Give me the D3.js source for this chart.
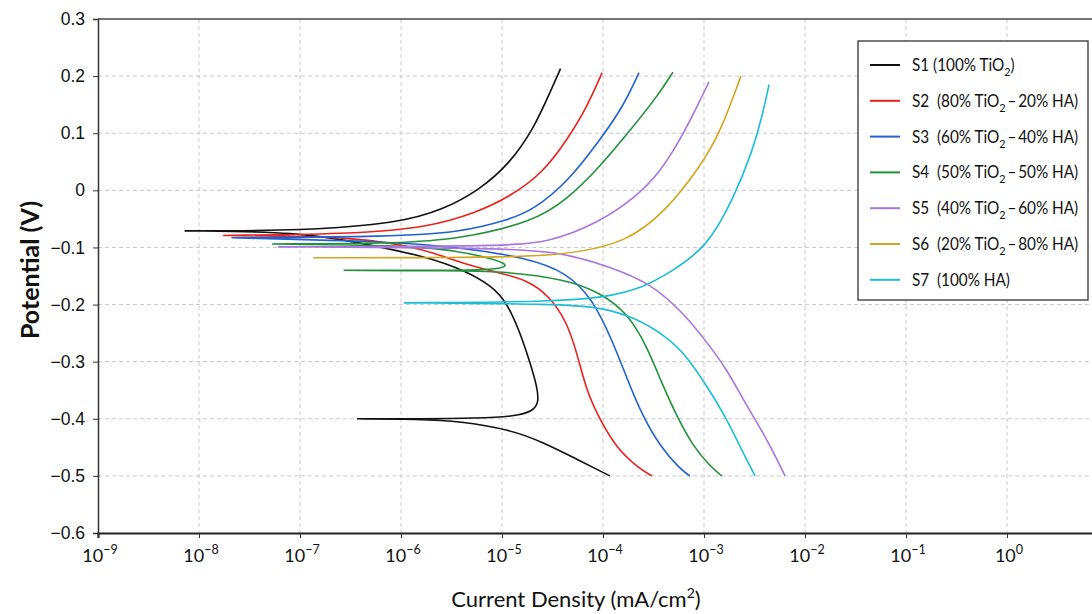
<!DOCTYPE html>
<html>
<head>
<meta charset="utf-8">
<script src="https://cdn.jsdelivr.net/npm/d3@7"></script>
<style>
  body { margin: 0; background: #fff; }
  svg { display: block; font-family: Lato, "Open Sans", sans-serif; }
</style>
</head>
<body>
<div id="chart"></div>
<script>
// polarisation curves, each one traced along the path: [current density mA/cm2, potential V]
var s1 = [[3.8e-5,0.213],[2.98e-5,0.171],[2.03e-5,0.106],[1.2e-5,0.048],[6.05e-6,0.001],[2.6e-6,-0.034],[9.8e-7,-0.057],[1.07e-7,-0.071],[7.2e-9,-0.071],
  [1.0e-7,-0.073],[3.93e-7,-0.092],[1.81e-6,-0.116],[4.5e-6,-0.142],[8.1e-6,-0.169],[1.12e-5,-0.197],[1.51e-5,-0.249],[1.89e-5,-0.301],[2.22e-5,-0.343],[2.32e-5,-0.371],[2.03e-5,-0.387],[1.29e-5,-0.396],[5.65e-6,-0.399],[1.54e-6,-0.4],[3.66e-7,-0.4],
  [1.5e-6,-0.401],[3.84e-6,-0.404],[1.2e-5,-0.419],[2.55e-5,-0.441],[5.53e-5,-0.471],[1.17e-4,-0.5]];
var s2 = [[9.8e-5,0.206],[6.95e-5,0.146],[4.4e-5,0.088],[2.55e-5,0.031],[1.2e-5,-0.011],[5.6e-6,-0.039],[1.8e-6,-0.065],[3.9e-7,-0.076],[1.73e-8,-0.079],
  [3.9e-7,-0.081],[1.81e-6,-0.104],[3.84e-6,-0.127],[8.1e-6,-0.142],[1.77e-5,-0.156],[2.98e-5,-0.186],[4.4e-5,-0.231],[5.5e-5,-0.284],[6.95e-5,-0.354],[9.3e-5,-0.401],[1.38e-4,-0.453],[2.32e-4,-0.488],[3.05e-4,-0.5]];
var s3 = [[2.27e-4,0.206],[1.58e-4,0.146],[9.3e-5,0.088],[4.4e-5,0.013],[2.03e-5,-0.034],[1.2e-5,-0.051],[3.8e-6,-0.074],[8.3e-7,-0.081],[2.1e-8,-0.083],
  [8.3e-7,-0.09],[3.84e-6,-0.1],[1.77e-5,-0.118],[4.4e-5,-0.144],[7.96e-5,-0.191],[1.26e-4,-0.266],[1.85e-4,-0.343],[2.49e-4,-0.396],[3.66e-4,-0.448],[5.78e-4,-0.488],[7.26e-4,-0.5]];
var s4 = [[4.93e-4,0.207],[3.43e-4,0.164],[1.98e-4,0.111],[9.3e-5,0.041],[4.4e-5,-0.016],[2.03e-5,-0.055],[3.84e-6,-0.085],[9.8e-7,-0.093],[5.3e-8,-0.094],
  [9.8e-7,-0.096],[3.84e-6,-0.106],[9e-6,-0.122],[1.2e-5,-0.133],[8e-6,-0.139],[3e-6,-0.14],[2.7e-7,-0.14],
  [3e-6,-0.141],[9.5e-6,-0.141],[4.4e-5,-0.156],[9.3e-5,-0.179],[1.73e-4,-0.214],[2.73e-4,-0.273],[3.93e-4,-0.343],[5.4e-4,-0.396],[7.78e-4,-0.448],[1.15e-3,-0.483],[1.5e-3,-0.5]];
var s5 = [[1.12e-3,0.19],[8.5e-4,0.146],[5.78e-4,0.088],[3.66e-4,0.031],[1.98e-4,-0.016],[9.3e-5,-0.055],[2.98e-5,-0.092],[8.1e-6,-0.098],[6.05e-8,-0.099],
  [8.1e-6,-0.101],[3.75e-5,-0.107],[1.17e-4,-0.134],[2.92e-4,-0.162],[6.2e-4,-0.214],[1.07e-3,-0.266],[1.69e-3,-0.314],[2.43e-3,-0.366],[3.84e-3,-0.424],[5.28e-3,-0.471],[6.34e-3,-0.5]];
var s6 = [[2.32e-3,0.2],[1.44e-3,0.1],[9.1e-4,0.041],[4.3e-4,-0.034],[1.73e-4,-0.092],[3.75e-5,-0.116],[3.05e-6,-0.118],[1.35e-7,-0.118]];
var s7 = [[4.4e-3,0.185],[3.84e-3,0.136],[3.06e-3,0.071],[1.94e-3,-0.016],[1.07e-3,-0.1],[4.6e-4,-0.144],[2.49e-4,-0.17],[1.17e-4,-0.186],[3.75e-5,-0.195],[1.07e-6,-0.197],
  [3.75e-5,-0.199],[9.3e-5,-0.205],[1.98e-4,-0.221],[4.3e-4,-0.256],[6.8e-4,-0.291],[1.07e-3,-0.343],[1.69e-3,-0.401],[2.43e-3,-0.459],[3.2e-3,-0.5]];

var seriesData = [s1, s2, s3, s4, s5, s6, s7];
var seriesNames = ['S1', 'S2', 'S3', 'S4', 'S5', 'S6', 'S7'];
// legend text: [before subscript, after subscript], null = no subscript
var legendParts = [
  ['(100% TiO', ')'],
  ['(80% TiO', '\u2009\u2013\u200920% HA)'],
  ['(60% TiO', '\u2009\u2013\u200940% HA)'],
  ['(50% TiO', '\u2009\u2013\u200950% HA)'],
  ['(40% TiO', '\u2009\u2013\u200960% HA)'],
  ['(20% TiO', '\u2009\u2013\u200980% HA)'],
  ['(100% HA)', null]
];
var colors = ['#111111', '#e8221c', '#2062cf', '#22923a', '#a975de', '#d4a41e', '#1dbdd6'];

var xTicks = [-9, -8, -7, -6, -5, -4, -3, -2, -1, 0];
var yTicks = [-0.6, -0.5, -0.4, -0.3, -0.2, -0.1, 0, 0.1, 0.2, 0.3];

var width = 1092, height = 614;

var x = d3.scaleLog().domain([1e-9, 1e1]).range([98, 1108]);
var y = d3.scaleLinear().domain([-0.6, 0.3]).range([533, 19]);

var svg = d3.select('#chart').append('svg')
  .attr('width', width)
  .attr('height', height);

// grid
svg.append('g').selectAll('line')
  .data(xTicks.slice(1))
  .enter().append('line')
  .attr('x1', function(d) { return x(Math.pow(10, d)); })
  .attr('x2', function(d) { return x(Math.pow(10, d)); })
  .attr('y1', y(0.3))
  .attr('y2', y(-0.6))
  .style('stroke', '#c9c9c9')
  .style('stroke-dasharray', '4,3');

svg.append('g').selectAll('line')
  .data(yTicks.slice(1, -1))
  .enter().append('line')
  .attr('x1', x(1e-9))
  .attr('x2', width)
  .attr('y1', function(d) { return y(d); })
  .attr('y2', function(d) { return y(d); })
  .style('stroke', '#c9c9c9')
  .style('stroke-dasharray', '4,3');

// curves
svg.append('clipPath').attr('id', 'plotclip')
  .append('rect').attr('x', 98).attr('y', 19).attr('width', width - 98).attr('height', 514);

// the spline is smoothed, so hold it on the left tips of each curve
function pinTips(pts) {
  var out = [];
  pts.forEach(function(p, i) {
    out.push(p);
    if (i > 0 && i < pts.length - 1 && pts[i - 1][0] > p[0] && pts[i + 1][0] > p[0]) {
      out.push(p, p);
    }
  });
  return out;
}

var line = d3.line()
  .x(function(d) { return x(d[0]); })
  .y(function(d) { return y(d[1]); })
  .curve(d3.curveBasis);

svg.append('g').attr('clip-path', 'url(#plotclip)')
  .selectAll('path')
  .data(seriesData)
  .enter().append('path')
  .attr('d', function(d) { return line(pinTips(d)); })
  .style('fill', 'none')
  .style('stroke', function(d, i) { return colors[i]; })
  .style('stroke-width', '1.6px');

// frame top
svg.append('line')
  .attr('x1', 98).attr('x2', width)
  .attr('y1', y(0.3)).attr('y2', y(0.3))
  .style('stroke', '#444').style('stroke-width', '1.5px');

// y axis
var yAxis = svg.append('g')
  .attr('transform', 'translate(98,0)')
  .call(d3.axisLeft(y).tickValues(yTicks).tickSize(5).tickPadding(8)
    .tickFormat(function(d) { return d === 0 ? '0' : d3.format('.1f')(d).replace('-', '\u2212'); }));
yAxis.select('.domain').style('stroke', '#333').style('stroke-width', '1.5px');
yAxis.selectAll('.tick line').style('stroke', '#333');
yAxis.selectAll('text').style('font-size', '17.5px').style('fill', '#111');

// x axis
var xAxis = svg.append('g')
  .attr('transform', 'translate(0,' + y(-0.6) + ')')
  .call(d3.axisBottom(x).tickValues(xTicks.map(function(e) { return Math.pow(10, e); }))
    .tickSize(5).tickFormat(''));
xAxis.select('.domain').style('stroke', '#222').style('stroke-width', '2.2px');
xAxis.selectAll('.tick line').style('stroke', '#333');

var xl = svg.append('g').selectAll('text')
  .data(xTicks)
  .enter().append('text')
  .attr('x', function(d) { return x(Math.pow(10, d)) + 2; })
  .attr('y', 562)
  .attr('text-anchor', 'middle')
  .style('font-size', '18px')
  .style('fill', '#111');
xl.append('tspan').text('10');
xl.append('tspan').attr('dy', -8).style('font-size', '12.5px')
  .text(function(d) { return d < 0 ? '\u2212' + Math.abs(d) : d; });

// axis titles
svg.append('text')
  .attr('transform', 'translate(39,270) rotate(-90)')
  .attr('text-anchor', 'middle')
  .style('font-size', '25px')
  .style('font-weight', 'bold')
  .style('fill', '#111')
  .text('Potential (V)');

var xt = svg.append('text')
  .attr('x', 576)
  .attr('y', 607)
  .attr('text-anchor', 'middle')
  .style('font-size', '22px')
  .style('fill', '#111');
xt.append('tspan').text('Current Density (mA/cm');
xt.append('tspan').attr('dy', -9).style('font-size', '14px').text('2');
xt.append('tspan').attr('dy', 9).text(')');

// legend
var lg = svg.append('g');
lg.append('rect')
  .attr('x', 858).attr('y', 41)
  .attr('width', 230).attr('height', 259)
  .style('fill', '#fff')
  .style('stroke', '#333')
  .style('stroke-width', '1.3px');

var items = lg.selectAll('.item')
  .data(seriesNames)
  .enter().append('g')
  .attr('class', 'item')
  .attr('transform', function(d, i) { return 'translate(0,' + (65 + i * 35.8) + ')'; });

items.append('line')
  .attr('x1', 870).attr('x2', 900)
  .style('stroke', function(d, i) { return colors[i]; })
  .style('stroke-width', '2px');

// narrower glyphs, closer to the condensed face of the original
var lt = items.append('text')
  .attr('transform', 'translate(912,6) scale(0.9,1)')
  .style('font-size', '17px')
  .style('fill', '#111')
  .style('white-space', 'pre');
lt.append('tspan').text(function(d, i) { return d + (i === 0 ? ' ' : '  ') + legendParts[i][0]; });
lt.filter(function(d, i) { return legendParts[i][1] !== null; })
  .each(function(d) {
    var i = seriesNames.indexOf(d);
    var t = d3.select(this);
    t.append('tspan').attr('dy', 5).style('font-size', '12px').text('2');
    t.append('tspan').attr('dy', -5).text(legendParts[i][1]);
  });
</script>
</body>
</html>
